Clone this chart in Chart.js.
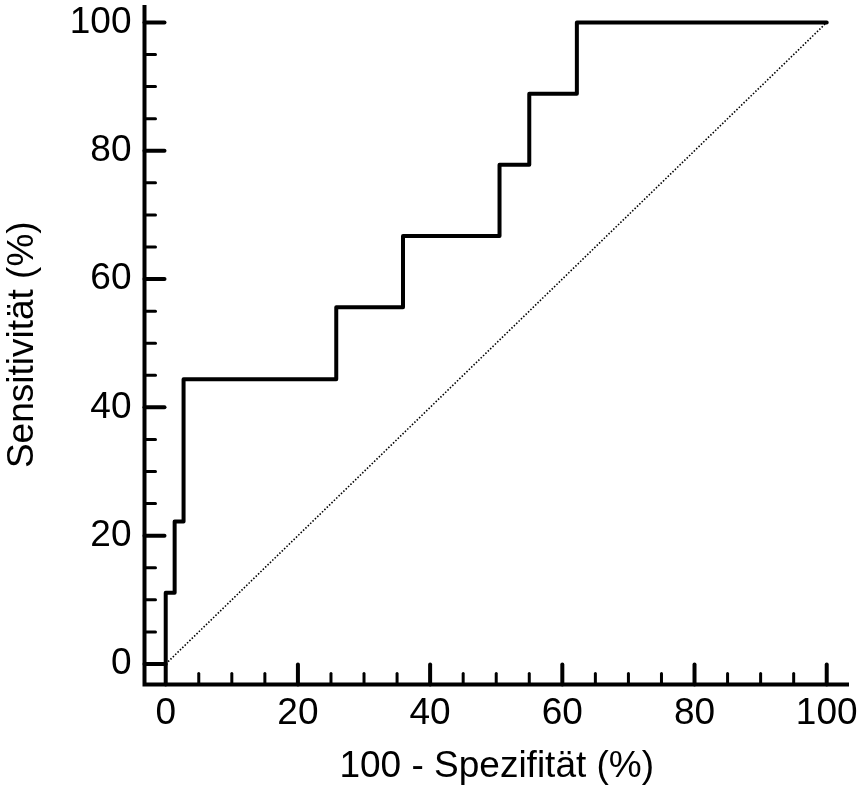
<!DOCTYPE html>
<html>
<head>
<meta charset="utf-8">
<script src="https://cdn.jsdelivr.net/npm/chart.js@4.4.1/dist/chart.umd.min.js"></script>
<style>
  html, body { margin: 0; padding: 0; background: #fff; }
</style>
</head>
<body>
<canvas id="roc" width="859" height="787"></canvas>
<script>
// ROC curve: 100 - specificity (x) vs. sensitivity (y), both in %
var fpr = [0, 0, 1.35, 2.7, 25.8, 35.9, 50.5, 55.0, 62.2, 100];
var tpr = [0, 11.1, 22.2, 44.4, 55.6, 66.7, 77.8, 88.9, 100, 100];

// chance line
var diagX = [0, 100];
var diagY = [0, 100];

var xTicks = [0, 20, 40, 60, 80, 100];
var yTicks = [0, 20, 40, 60, 80, 100];
var minorStep = 5;

var xTitle = '100 - Spezifität (%)';
var yTitle = 'Sensitivität (%)';

var FONT = '"Liberation Sans", Arial, sans-serif';

function toPoints(xs, ys) {
  return xs.map(function(x, i) { return { x: x, y: ys[i] }; });
}

// fixed axis size, and no extra room reserved for labels overhanging the ends
function fixSize(prop, size) {
  return function(s) {
    s[prop] = size;
    s.paddingTop = 0;
    s.paddingBottom = 0;
    s.paddingLeft = 0;
    s.paddingRight = 0;
  };
}

// axis lines, inward ticks (major + minor) and the two titles
var axesPlugin = {
  id: 'axesPlugin',
  afterDraw: function(chart) {
    var ctx = chart.ctx;
    var a = chart.chartArea;
    var xs = chart.scales.x;
    var ys = chart.scales.y;

    ctx.save();
    ctx.strokeStyle = '#000';

    // spines
    ctx.lineWidth = 4;
    ctx.lineCap = 'butt';
    ctx.lineJoin = 'miter';
    ctx.beginPath();
    ctx.moveTo(a.left, a.top);
    ctx.lineTo(a.left, a.bottom);
    ctx.lineTo(a.right, a.bottom);
    ctx.stroke();

    // ticks
    ctx.lineCap = 'round';
    for (var v = 0; v <= 100; v += minorStep) {
      var major = xTicks.indexOf(v) !== -1;
      var len = major ? 20 : 11;
      ctx.lineWidth = major ? 4 : 3;

      var px = xs.getPixelForValue(v);
      ctx.beginPath();
      ctx.moveTo(px, a.bottom);
      ctx.lineTo(px, a.bottom - len);
      ctx.stroke();

      var py = ys.getPixelForValue(v);
      ctx.beginPath();
      ctx.moveTo(a.left, py);
      ctx.lineTo(a.left + len, py);
      ctx.stroke();
    }

    // titles
    ctx.fillStyle = '#000';
    ctx.font = '37px ' + FONT;
    ctx.textAlign = 'center';
    ctx.textBaseline = 'alphabetic';
    ctx.fillText(xTitle, (a.left + a.right) / 2, 777);

    ctx.translate(23, (a.top + a.bottom) / 2);
    ctx.rotate(-Math.PI / 2);
    ctx.textBaseline = 'middle';
    ctx.fillText(yTitle, 0, 0);

    ctx.restore();
  }
};

var tickFont = { family: FONT, size: 37 };

new Chart(document.getElementById('roc').getContext('2d'), {
  type: 'scatter',
  data: {
    datasets: [{
      label: 'ROC',
      data: toPoints(fpr, tpr),
      showLine: true,
      stepped: 'before',
      borderColor: '#000',
      borderWidth: 4,
      borderJoinStyle: 'round',
      borderCapStyle: 'round',
      pointRadius: 0,
      fill: false
    }, {
      label: 'Diagonale',
      data: toPoints(diagX, diagY),
      showLine: true,
      borderColor: '#000',
      borderWidth: 1.6,
      borderDash: [1.5, 1.8],
      pointRadius: 0,
      fill: false
    }]
  },
  plugins: [axesPlugin],
  options: {
    responsive: false,
    animation: false,
    devicePixelRatio: 1,
    layout: { padding: { top: 5, right: 10, left: 0, bottom: 0 } },
    plugins: {
      legend: { display: false },
      tooltip: { enabled: false }
    },
    scales: {
      x: {
        type: 'linear',
        min: -3.21,
        max: 103.37,
        afterFit: fixSize('height', 102.5),
        afterBuildTicks: function(s) { s.ticks = xTicks.map(function(v) { return { value: v }; }); },
        grid: { display: false, drawTicks: false },
        border: { display: false },
        ticks: { color: '#000', font: tickFont, padding: 7, maxRotation: 0, autoSkip: false }
      },
      y: {
        type: 'linear',
        min: -3.2,
        max: 102.72,
        afterFit: fixSize('width', 144.5),
        afterBuildTicks: function(s) { s.ticks = yTicks.map(function(v) { return { value: v }; }); },
        grid: { display: false, drawTicks: false },
        border: { display: false },
        ticks: { color: '#000', font: tickFont, padding: 13, autoSkip: false }
      }
    }
  }
});
</script>
</body>
</html>
